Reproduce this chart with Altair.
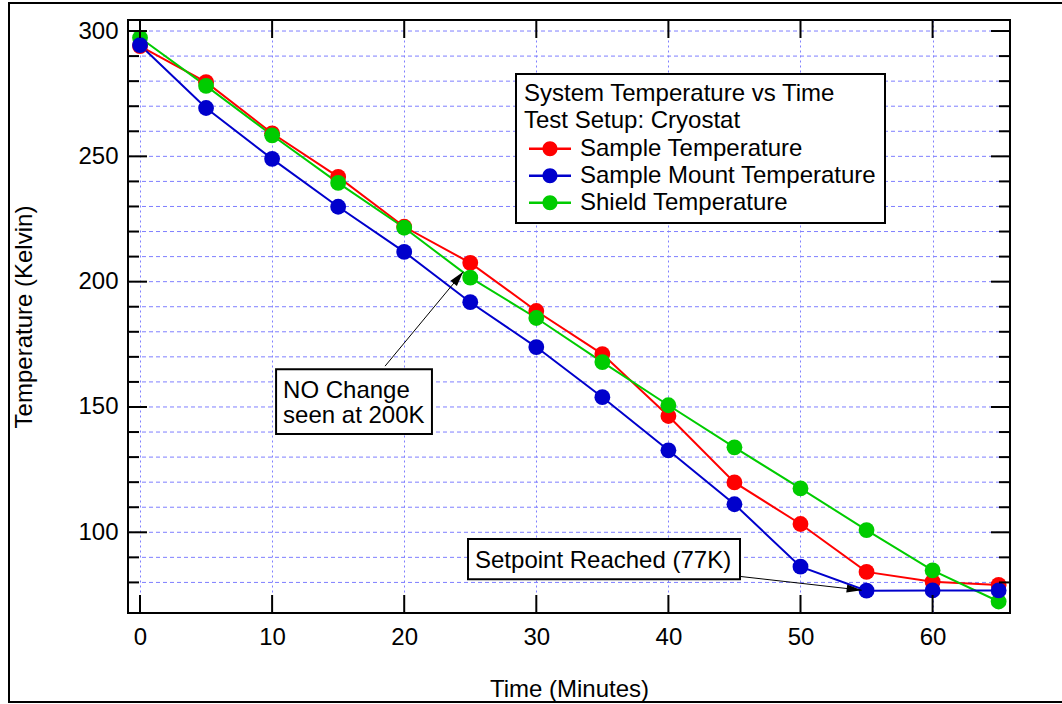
import math
import altair as alt
import pandas as pd

# ---------------- data ----------------
time_min = [0, 5, 10, 15, 20, 25, 30, 35, 40, 45, 50, 55, 60, 65]
sample_temp = [294.0, 279.6, 259.2, 241.8, 221.9, 207.5, 188.3, 171.1, 146.4, 119.9, 103.3, 84.2, 80.3, 79.0]
mount_temp = [294.4, 269.3, 249.0, 229.9, 211.9, 191.8, 173.9, 153.9, 132.7, 111.2, 86.3, 76.7, 76.8, 76.8]
shield_temp = [297.3, 278.1, 258.4, 239.4, 221.5, 201.6, 185.5, 167.9, 150.7, 133.9, 117.5, 100.9, 84.8, 72.4]

series_names = ["Sample Temperature", "Sample Mount Temperature", "Shield Temperature"]
series_colors = ["#ff0000", "#0000cc", "#00cc00"]

x_ticks = [0, 10, 20, 30, 40, 50, 60]
y_grid = list(range(80, 301, 10))
y_major = [100, 150, 200, 250, 300]

legend_title = ["System Temperature vs Time", "Test Setup: Cryostat"]

# annotation boxes: left, right, top, bottom in data units
ann_text = ["NO Change\nseen at 200K", "Setpoint Reached (77K)"]
ann_x1 = [10.3, 24.83]
ann_x2 = [22.1, 45.42]
ann_y1 = [165.1, 97.3]
ann_y2 = [139.2, 81.3]
# arrows: start -> tip in data units
arr_x1 = [18.55, 45.42]
arr_y1 = [166.3, 82.4]
arr_x2 = [24.47, 54.63]
arr_y2 = [203.95, 76.9]

# ---------------- layout ----------------
W, H = 882, 593
X_DOM = [-0.91, 65.86]
Y_DOM = [67.8, 304.4]
FONT = "Liberation Sans"
FS = 24
GRID = "#7f7fff"

order = [0, 2, 1]  # draw order: red, green, blue on top
series_vals = [sample_temp, mount_temp, shield_temp]
rows = []
for i in order:
    for t, v in zip(time_min, series_vals[i]):
        rows.append({"time": t, "temp": v, "series": series_names[i]})
df = pd.DataFrame(rows)

xs = alt.Scale(domain=X_DOM, nice=False, zero=False)
ys = alt.Scale(domain=Y_DOM, nice=False, zero=False)
cs = alt.Scale(domain=series_names, range=series_colors)

LEG_SYM = ("M-2.8,-0.16H2.8V0.16H-2.8Z "
           "M-1,0A1,1 0 1,1 1,0A1,1 0 1,1 -1,0Z")

legend = alt.Legend(
    title=legend_title, orient="none", legendX=388, legendY=54,
    symbolType=LEG_SYM, symbolSize=225, symbolStrokeWidth=0,
    symbolOffset=14, labelOffset=18, labelLimit=500, titleLimit=500,
    labelFontSize=FS, labelFont=FONT, labelColor="black",
    titleFontSize=FS, titleFont=FONT, titleFontWeight="normal",
    titleColor="black", titleLineHeight=26.7, titlePadding=4,
    rowPadding=3, padding=8, strokeColor="black", fillColor="white",
)

x_axis = alt.Axis(values=x_ticks, grid=True, gridColor=GRID, gridDash=[2, 3],
                  gridWidth=1, ticks=False, tickSize=0, domain=False, labelPadding=12,
                  labelFlush=False, labelOverlap=False,
                  title="Time (Minutes)", titleBaseline="alphabetic", titleY=83)
y_axis = alt.Axis(values=y_major, grid=False, ticks=False, tickSize=0, domain=False,
                  labelPadding=10, labelFlush=False, labelOverlap=False,
                  title="Temperature (Kelvin)", titleAngle=270, titleBaseline="alphabetic",
                  titleAlign="center", titleX=-96.5, titleY=296.5)

# horizontal grid (every 10 K)
hgrid = alt.Chart(pd.DataFrame({"temp": y_grid})).mark_rule(
    color=GRID, strokeWidth=1, strokeDash=[4, 3]).encode(
    y=alt.Y("temp:Q", scale=ys), x=alt.value(0), x2=alt.value(W))

base = alt.Chart(df)

lines = base.mark_line(strokeWidth=2).encode(
    x=alt.X("time:Q", scale=xs, axis=x_axis),
    y=alt.Y("temp:Q", scale=ys, axis=y_axis),
    color=alt.Color("series:N", scale=cs, legend=legend),
)

points = base.mark_point(filled=True, size=250, opacity=1).encode(
    x=alt.X("time:Q", scale=xs),
    y=alt.Y("temp:Q", scale=ys),
    color=alt.Color("series:N", scale=cs, legend=legend),
)

# inward ticks
xt = pd.DataFrame({"time": x_ticks})
ymaj = pd.DataFrame({"temp": y_major})
ymin = pd.DataFrame({"temp": [v for v in y_grid if v not in y_major]})

tick_layers = [
    alt.Chart(xt).mark_rule(color="black", strokeWidth=2).encode(
        x=alt.X("time:Q", scale=xs), y=alt.value(H), y2=alt.value(H - 18)),
    alt.Chart(xt).mark_rule(color="black", strokeWidth=2).encode(
        x=alt.X("time:Q", scale=xs), y=alt.value(0), y2=alt.value(18)),
    alt.Chart(ymaj).mark_rule(color="black", strokeWidth=2).encode(
        y=alt.Y("temp:Q", scale=ys), x=alt.value(0), x2=alt.value(19)),
    alt.Chart(ymaj).mark_rule(color="black", strokeWidth=2).encode(
        y=alt.Y("temp:Q", scale=ys), x=alt.value(W), x2=alt.value(W - 19)),
    alt.Chart(ymin).mark_rule(color="black", strokeWidth=2).encode(
        y=alt.Y("temp:Q", scale=ys), x=alt.value(0), x2=alt.value(11)),
    alt.Chart(ymin).mark_rule(color="black", strokeWidth=2).encode(
        y=alt.Y("temp:Q", scale=ys), x=alt.value(W), x2=alt.value(W - 11)),
]

# annotations
ann = pd.DataFrame({"label": ann_text, "time": ann_x1, "time2": ann_x2,
                    "temp": ann_y1, "temp2": ann_y2})
boxes = alt.Chart(ann).mark_rect(fill="white", stroke="black", strokeWidth=2).encode(
    x=alt.X("time:Q", scale=xs), x2="time2:Q",
    y=alt.Y("temp:Q", scale=ys), y2="temp2:Q")
texts = alt.Chart(ann).mark_text(align="left", baseline="alphabetic", fontSize=FS,
                                 font=FONT, color="black", lineBreak="\n",
                                 lineHeight=25.5, dx=7, dy=28.7).encode(
    x=alt.X("time:Q", scale=xs), y=alt.Y("temp:Q", scale=ys), text="label:N")

px_x = W / (X_DOM[1] - X_DOM[0])
px_y = H / (Y_DOM[1] - Y_DOM[0])
angles = []
for a, b, c, d in zip(arr_x1, arr_y1, arr_x2, arr_y2):
    dx = (c - a) * px_x
    dy = -(d - b) * px_y
    angles.append(math.degrees(math.atan2(dx, -dy)) % 360)
arr = pd.DataFrame({"time": arr_x1, "temp": arr_y1, "time2": arr_x2, "temp2": arr_y2,
                    "ang": angles})
arrow_lines = alt.Chart(arr).mark_rule(color="black", strokeWidth=1).encode(
    x=alt.X("time:Q", scale=xs), x2="time2:Q",
    y=alt.Y("temp:Q", scale=ys), y2="temp2:Q")
arrow_heads = alt.Chart(arr).mark_point(
    shape="M0,0L0.55,2L-0.55,2Z", filled=True, color="black", size=225, opacity=1
).encode(
    x=alt.X("time2:Q", scale=xs), y=alt.Y("temp2:Q", scale=ys),
    angle=alt.Angle("ang:Q", scale=None))

frame = alt.Chart(pd.DataFrame({"k": [0]})).mark_rect(
    fillOpacity=0, stroke="black", strokeWidth=2).encode(
    x=alt.value(9 - 128), x2=alt.value(1080 - 128),
    y=alt.value(3 - 20), y2=alt.value(702 - 20))

chart = alt.layer(
    hgrid, lines, points, *tick_layers, boxes, texts, arrow_lines, arrow_heads, frame
).properties(
    width=W, height=H,
    autosize=alt.AutoSizeParams(type="none"),
    padding={"left": 128, "top": 20, "right": 52, "bottom": 91},
    background="white",
).configure(font=FONT).configure_view(
    stroke="black", strokeWidth=2
).configure_axis(
    labelFont=FONT, labelFontSize=FS, labelColor="black",
    titleFont=FONT, titleFontSize=FS, titleFontWeight="normal", titleColor="black",
).configure_legend(strokeWidth=2)

chart.save("out.html", embed_options={"renderer": "svg", "actions": False})
